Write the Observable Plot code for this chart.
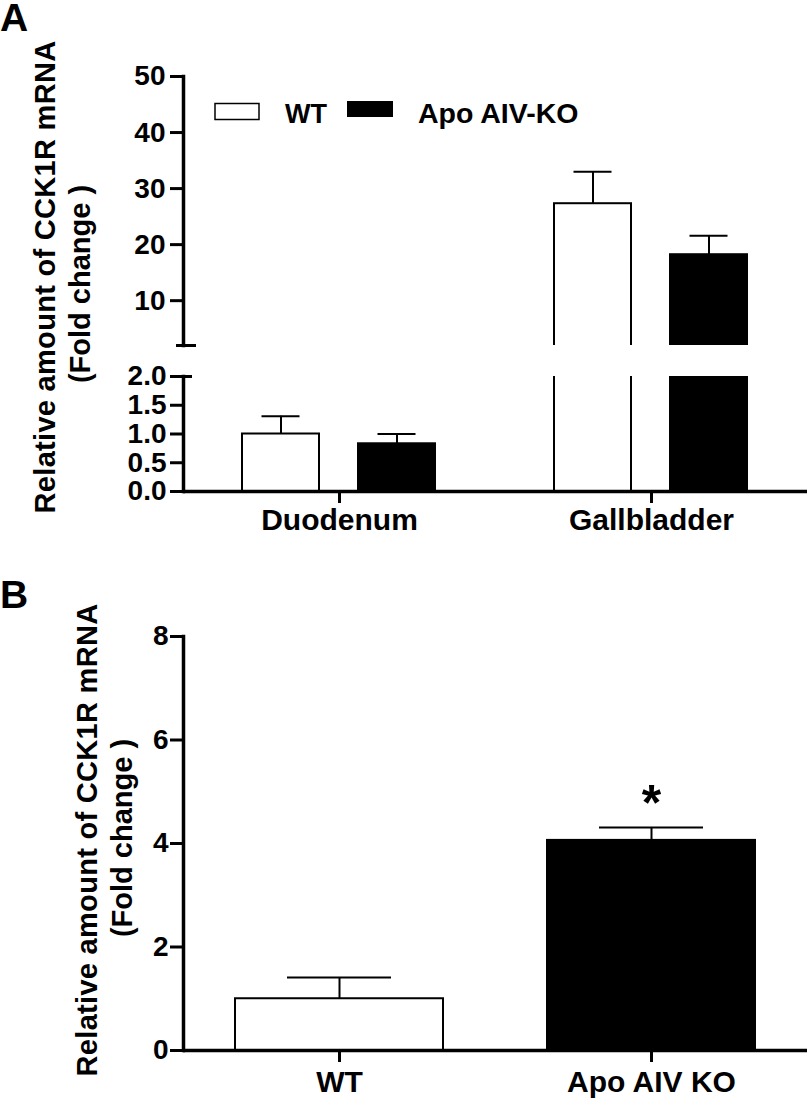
<!DOCTYPE html>
<html><head><meta charset="utf-8">
<script src="https://cdn.jsdelivr.net/npm/d3@7"></script>
<script src="https://cdn.jsdelivr.net/npm/@observablehq/plot@0.6"></script>
<style>
body{margin:0;background:#fff;}
#root{position:relative;width:812px;height:1099px;overflow:hidden;background:#fff;}
#root svg{position:absolute;left:0;}
</style></head><body><div id="root"></div>
<script>
// ---------- data ----------
const tissues = ["Duodenum", "Gallbladder"];
const genotypesA = ["WT", "Apo AIV-KO"];
const meanWT_A = [1.0, 27.3];
const semWT_A = [0.31, 5.7];
const meanKO_A = [0.83, 18.2];
const semKO_A = [0.17, 3.4];
const ticksUpperA = [10, 20, 30, 40, 50];
const ticksLowerA = [0, 0.5, 1.0, 1.5, 2.0];
const upperDomainA = [2, 50];
const lowerDomainA = [0, 2];

const groupsB = ["WT", "Apo AIV KO"];
const meanB = [1.0, 4.06];
const semB = [0.41, 0.25];
const starsB = ["", "*"];
const ticksB = [0, 2, 4, 6, 8];
const domainB = [0, 8];

const yTitle1 = "Relative amount of CCK1R mRNA";
const yTitle2 = "(Fold change )";

// ---------- tables ----------
const dataA = tissues.flatMap((t, i) => [
  {tissue: t, genotype: genotypesA[0], mean: meanWT_A[i], sem: semWT_A[i]},
  {tissue: t, genotype: genotypesA[1], mean: meanKO_A[i], sem: semKO_A[i]}
]);
const dataB = groupsB.map((g, i) => ({group: g, mean: meanB[i], sem: semB[i], star: starsB[i]}));

// ---------- layout ----------
const FONT = "'Liberation Sans', Arial, Helvetica, sans-serif";
const W = 812, ML = 183, MR = 5;
const facetBand = (W - ML - MR) / tissues.length;
const root = document.getElementById("root");
const baseStyle = {fontFamily: FONT, fontWeight: "bold", background: "transparent", overflow: "visible", color: "#000"};
const AX = 3.5;
const TICKFONT = 28;

function errorMarks(data, pos, capInset) {
  return [
    Plot.ruleX(data, {...pos, y1: "mean", y2: d => d.mean + d.sem, stroke: "#000", strokeWidth: 2, clip: true}),
    Plot.tickY(data, {...pos, y: d => d.mean + d.sem, stroke: "#000", strokeWidth: 2, inset: capInset, clip: true})
  ];
}
const posA = {fx: "tissue", x: "genotype"};
const capA = 19.5;

// Panel A, upper segment
const upper = Plot.plot({
  width: W, height: 360, marginLeft: ML, marginRight: MR, marginTop: 76, marginBottom: 15,
  style: baseStyle,
  facet: {marginLeft: 0, marginRight: 0, marginTop: 0, marginBottom: 0},
  fx: {domain: tissues, padding: 0, axis: null, label: null},
  x: {domain: genotypesA, paddingInner: 1/3, paddingOuter: 0.5, axis: null},
  y: {domain: upperDomainA},
  color: {domain: genotypesA, range: ["#fff", "#000"]},
  marks: [
    Plot.barY(dataA, {...posA, y1: 0, y2: "mean", fill: "genotype", stroke: "#000", strokeWidth: 2, clip: true}),
    ...errorMarks(dataA, posA, capA),
    Plot.frame({anchor: "left", stroke: "#000", strokeWidth: AX, facetAnchor: "left"}),
    Plot.ruleY([upperDomainA[0]], {stroke: "#000", strokeWidth: 3, insetLeft: -7, insetRight: facetBand - 13, facetAnchor: "left"}),
    Plot.axisY({ticks: ticksUpperA, tickSize: 13, tickPadding: 5, strokeWidth: 3, fontSize: TICKFONT, fontWeight: "bold", label: null, tickFormat: d => String(d)})
  ]
});
upper.style.top = "0px";
root.appendChild(upper);

// Panel A, lower segment
const lower = Plot.plot({
  width: W, height: 200, marginLeft: ML, marginRight: MR, marginTop: 16, marginBottom: 69,
  style: baseStyle,
  facet: {marginLeft: 0, marginRight: 0, marginTop: 0, marginBottom: 0},
  fx: {domain: tissues, padding: 0, label: null},
  x: {domain: genotypesA, paddingInner: 1/3, paddingOuter: 0.5, axis: null},
  y: {domain: lowerDomainA},
  color: {domain: genotypesA, range: ["#fff", "#000"]},
  marks: [
    Plot.barY(dataA, {...posA, y: "mean", fill: "genotype", stroke: "#000", strokeWidth: 2, clip: true}),
    ...errorMarks(dataA, posA, capA),
    Plot.ruleY([0], {stroke: "#000", strokeWidth: AX}),
    Plot.frame({anchor: "left", stroke: "#000", strokeWidth: AX, facetAnchor: "left"}),
    Plot.ruleY([lowerDomainA[1]], {stroke: "#000", strokeWidth: 3, insetLeft: 0, insetRight: facetBand - 9, facetAnchor: "left"}),
    Plot.axisY({ticks: ticksLowerA, tickSize: 13, tickPadding: 4, strokeWidth: 3, fontSize: TICKFONT, fontWeight: "bold", label: null, tickFormat: d3.format(".1f")}),
    Plot.axisFx({anchor: "bottom", tickSize: 12, tickPadding: 5, strokeWidth: 3, fontSize: 30, fontWeight: "bold", label: null})
  ]
});
lower.style.top = "360px";
root.appendChild(lower);

// Panel B
const panelB = Plot.plot({
  width: W, height: 539, marginLeft: ML, marginRight: MR, marginTop: 76, marginBottom: 49,
  style: baseStyle,
  x: {domain: groupsB, paddingInner: 1/3, paddingOuter: 1/6},
  y: {domain: domainB},
  color: {domain: groupsB, range: ["#fff", "#000"]},
  marks: [
    Plot.barY(dataB, {x: "group", y: "mean", fill: "group", stroke: "#000", strokeWidth: 2}),
    ...errorMarks(dataB, {x: "group"}, 52),
    Plot.text(dataB, {x: "group", y: d => d.mean + d.sem, text: "star", fontSize: 50, fontWeight: "bold", lineAnchor: "bottom", dy: -7}),
    Plot.ruleY([0], {stroke: "#000", strokeWidth: AX}),
    Plot.frame({anchor: "left", stroke: "#000", strokeWidth: AX}),
    Plot.axisY({ticks: ticksB, tickSize: 13, tickPadding: 2, strokeWidth: 3, fontSize: TICKFONT, fontWeight: "bold", label: null, tickFormat: d => String(d)}),
    Plot.axisX({tickSize: 12, tickPadding: 8, strokeWidth: 3, fontSize: 30, fontWeight: "bold", label: null})
  ]
});
panelB.style.top = "560px";
root.appendChild(panelB);

// ---------- annotations: panel letters, y titles, legend ----------
const NS = "http://www.w3.org/2000/svg";
const ov = document.createElementNS(NS, "svg");
ov.setAttribute("width", W); ov.setAttribute("height", 1099);
ov.style.top = "0px"; ov.style.pointerEvents = "none";
ov.setAttribute("font-family", FONT); ov.setAttribute("font-weight", "bold");
function txt(s, x, y, size, opts = {}) {
  const t = document.createElementNS(NS, "text");
  t.textContent = s; t.setAttribute("font-size", size);
  if (opts.rotate) { t.setAttribute("transform", `translate(${x},${y}) rotate(-90)`); t.setAttribute("text-anchor", "middle"); }
  else { t.setAttribute("x", x); t.setAttribute("y", y); }
  if (opts.ls) t.setAttribute("letter-spacing", opts.ls);
  ov.appendChild(t);
}
function rect(x, y, w, h, fill, sw) {
  const r = document.createElementNS(NS, "rect");
  r.setAttribute("x", x); r.setAttribute("y", y); r.setAttribute("width", w); r.setAttribute("height", h);
  r.setAttribute("fill", fill); r.setAttribute("stroke", "#000"); r.setAttribute("stroke-width", sw);
  ov.appendChild(r);
}
txt("A", 0, 31, 39);
txt("B", 0, 608, 39);
txt(yTitle1, 55, 277, 29, {rotate: true, ls: 0.3});
txt(yTitle2, 90, 284, 29, {rotate: true});
txt(yTitle1, 97, 840, 29, {rotate: true, ls: 0.3});
txt(yTitle2, 132, 838, 29, {rotate: true});
// legend
rect(215, 103.5, 44, 16, "#fff", 1.5);
txt(genotypesA[0], 285, 123, 27);
rect(347, 101, 46, 16, "#000", 0);
txt(genotypesA[1], 418, 123, 28.5);
root.appendChild(ov);
</script></body></html>
